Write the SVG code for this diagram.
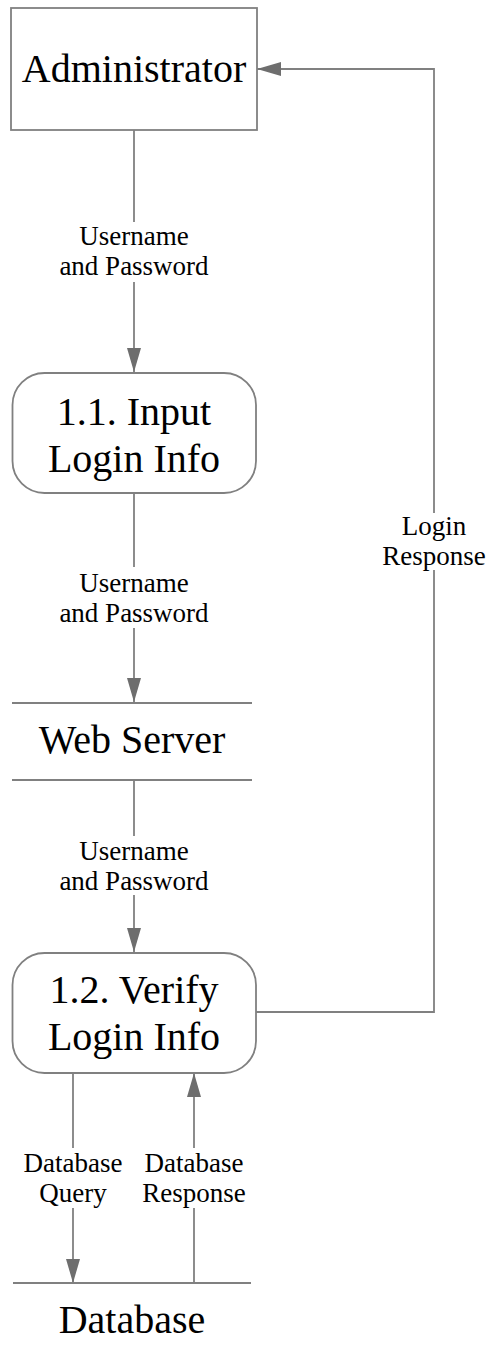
<svg xmlns="http://www.w3.org/2000/svg" width="492" height="1355" viewBox="0 0 492 1355">
  <defs>
    <style>
      .shape { fill: #ffffff; stroke: #808080; stroke-width: 1.8; }
      .store { fill: none; stroke: #808080; stroke-width: 1.8; }
      .flow { fill: none; stroke: #808080; stroke-width: 1.8; }
      text { font-family: 'Liberation Serif', 'Times New Roman', Times, 'DejaVu Serif', serif; fill: #000000; text-anchor: middle; }
      .big { font-size: 40px; }
      .lbl { font-size: 27px; }
    </style>
    <marker id="arrow" markerUnits="userSpaceOnUse" markerWidth="25" markerHeight="14" refX="24" refY="7" orient="auto">
      <path d="M0,0 L24,7 L0,14 Z" fill="#6e6e6e"/>
    </marker>
  </defs>

  <rect width="492" height="1355" fill="#ffffff"/>

  <!-- data flows -->
  <g id="connectors">
    <!-- Administrator to 1.1 -->
    <path class="flow" d="M134,130 V222"/>
    <path class="flow" d="M134,282 V372" marker-end="url(#arrow)"/>
    <text class="lbl" x="134" y="245" font-family="Liberation Serif">Username</text>
    <text class="lbl" x="134" y="275" font-family="Liberation Serif">and Password</text>

    <!-- 1.1 to Web Server -->
    <path class="flow" d="M134,493 V567"/>
    <path class="flow" d="M134,628 V702" marker-end="url(#arrow)"/>
    <text class="lbl" x="134" y="592">Username</text>
    <text class="lbl" x="134" y="622">and Password</text>

    <!-- Web Server to 1.2 -->
    <path class="flow" d="M134,780 V836"/>
    <path class="flow" d="M134,895 V952" marker-end="url(#arrow)"/>
    <text class="lbl" x="134" y="860">Username</text>
    <text class="lbl" x="134" y="890">and Password</text>

    <!-- 1.2 to Administrator -->
    <path class="flow" d="M256,1012 H434 V570"/>
    <path class="flow" d="M434,513 V69 H257" marker-end="url(#arrow)"/>
    <text class="lbl" x="434" y="535">Login</text>
    <text class="lbl" x="434" y="565">Response</text>

    <!-- 1.2 to Database -->
    <path class="flow" d="M73,1073 V1148"/>
    <path class="flow" d="M73,1208 V1283" marker-end="url(#arrow)"/>
    <text class="lbl" x="73" y="1172">Database</text>
    <text class="lbl" x="73" y="1202">Query</text>

    <!-- Database to 1.2 -->
    <path class="flow" d="M194,1283 V1208"/>
    <path class="flow" d="M194,1148 V1073" marker-end="url(#arrow)"/>
    <text class="lbl" x="194" y="1172">Database</text>
    <text class="lbl" x="194" y="1202">Response</text>
  </g>

  <g id="administrator">
    <rect class="shape" x="11" y="8" width="246" height="122"/>
    <text class="big" x="134" y="82">Administrator</text>
  </g>

  <g id="input-login-info">
    <rect class="shape" x="12.5" y="373" width="243.5" height="120" rx="32" ry="32"/>
    <text class="big" x="134" y="425">1.1. Input</text>
    <text class="big" x="134" y="472">Login Info</text>
  </g>

  <g id="web-server">
    <path class="store" d="M12,703 H252 M12,780 H252"/>
    <text class="big" x="132" y="753">Web Server</text>
  </g>

  <g id="verify-login-info">
    <rect class="shape" x="12.5" y="953" width="243.5" height="120" rx="32" ry="32"/>
    <text class="big" x="134" y="1003">1.2. Verify</text>
    <text class="big" x="134" y="1050">Login Info</text>
  </g>

  <g id="database">
    <path class="store" d="M13,1283 H251"/>
    <text class="big" x="132" y="1333">Database</text>
  </g>
</svg>
